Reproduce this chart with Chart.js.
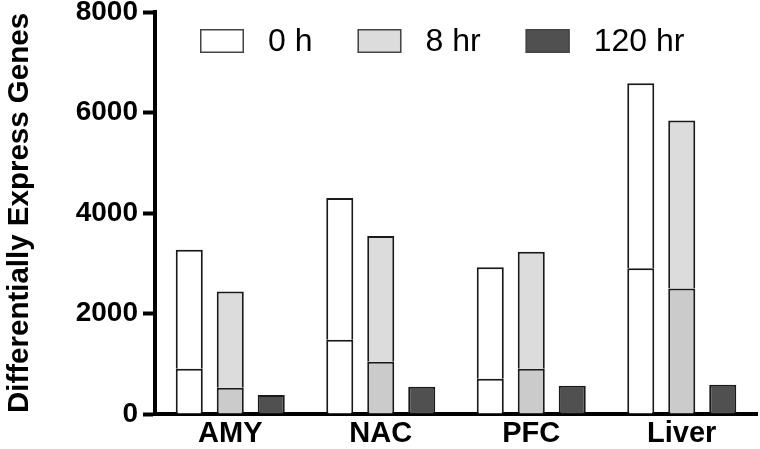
<!DOCTYPE html>
<html>

<head>
  <meta charset="UTF-8">
  <title>Differentially Express Genes</title>
  <script src="https://cdn.jsdelivr.net/npm/chart.js@4"></script>
  <style>
    body {
      margin: 0;
      background: #fff;
    }
  </style>
</head>

<body>
  <canvas id="degChart" width="760" height="449"></canvas>

  <script>
    // values
    const categories = ['AMY', 'NAC', 'PFC', 'Liver'];
    const seriesNames = ['0 h', '8 hr', '120 hr'];
    const h0Total = [3270, 4300, 2920, 6580];
    const h0Lower = [900, 1480, 700, 2900];
    const h8Total = [2440, 3540, 3230, 5840];
    const h8Lower = [520, 1040, 900, 2500];
    const h120 = [380, 540, 560, 580];
    const yTicks = [0, 2000, 4000, 6000, 8000];

    const FONT = "'Liberation Sans', Arial, sans-serif";
    const upper = (tot, low) => tot.map((v, i) => v - low[i]);

    function seg(label, data, fill, stack) {
      return {
        label: label,
        data: data,
        stack: stack,
        backgroundColor: fill,
        borderColor: '#1a1a1a',
        borderWidth: 2
      };
    }

    const datasets = [
      seg('', h0Lower, '#ffffff', 'h0'),
      seg(seriesNames[0], upper(h0Total, h0Lower), '#ffffff', 'h0'),
      seg('', h8Lower, '#cbcbcb', 'h8'),
      seg(seriesNames[1], upper(h8Total, h8Lower), '#dcdcdc', 'h8'),
      seg(seriesNames[2], h120, '#505050', 'h120')
    ];

    // one row of legend inside the plot, near its top
    const rowLegend = {
      id: 'rowLegend',
      afterDraw(chart) {
        const ctx = chart.ctx;
        const area = chart.chartArea;
        let x = area.left + 45;
        const y = area.top + 17;
        ctx.save();
        ctx.font = '32px ' + FONT;
        ctx.textBaseline = 'middle';
        ctx.textAlign = 'left';
        chart.data.datasets.forEach(ds => {
          if (!ds.label) return;
          ctx.fillStyle = ds.backgroundColor;
          ctx.fillRect(x, y, 44, 24);
          ctx.lineWidth = 1.5;
          ctx.strokeStyle = '#444';
          ctx.strokeRect(x + 0.75, y + 0.75, 42.5, 22.5);
          x += 44 + 24;
          ctx.fillStyle = '#000';
          ctx.fillText(ds.label, x, y + 13);
          x += ctx.measureText(ds.label).width + 45;
        });
        ctx.restore();
      }
    };

    new Chart(document.getElementById('degChart'), {
      type: 'bar',
      data: { labels: categories, datasets: datasets },
      plugins: [rowLegend],
      options: {
        responsive: false,
        animation: false,
        devicePixelRatio: 1,
        layout: { padding: { top: 12, right: 3, left: 0, bottom: 0 } },
        datasets: {
          bar: { categoryPercentage: 0.817, barPercentage: 0.66 }
        },
        plugins: {
          tooltip: { enabled: false },
          legend: { display: false }
        },
        scales: {
          x: {
            stacked: true,
            grid: { display: false, drawTicks: false, tickLength: 0 },
            border: { display: true, color: '#000', width: 4 },
            ticks: {
              color: '#000',
              padding: 3,
              font: { family: FONT, size: 29, weight: 'bold' }
            },
            afterFit(scale) {
              scale.height = 35;
              scale.paddingLeft = 0;
              scale.paddingRight = 0;
            }
          },
          y: {
            stacked: true,
            min: 0,
            max: 8000,
            afterBuildTicks(scale) {
              scale.ticks = yTicks.map(v => ({ value: v }));
            },
            grid: {
              drawOnChartArea: false,
              drawTicks: true,
              tickLength: 12,
              tickWidth: 4,
              tickColor: '#000'
            },
            border: { display: true, color: '#000', width: 4 },
            ticks: {
              color: '#000',
              padding: 5,
              callback: v => String(v),
              font: { family: FONT, size: 28, weight: 'bold' }
            },
            title: {
              display: true,
              text: 'Differentially Express Genes',
              color: '#000',
              padding: { top: 2, bottom: 0 },
              font: { family: FONT, size: 29.5, weight: 'bold' }
            },
            afterFit(scale) {
              scale.width = 155;
              scale.paddingTop = 0;
              scale.paddingBottom = 0;
            }
          }
        }
      }
    });
  </script>
</body>

</html>
